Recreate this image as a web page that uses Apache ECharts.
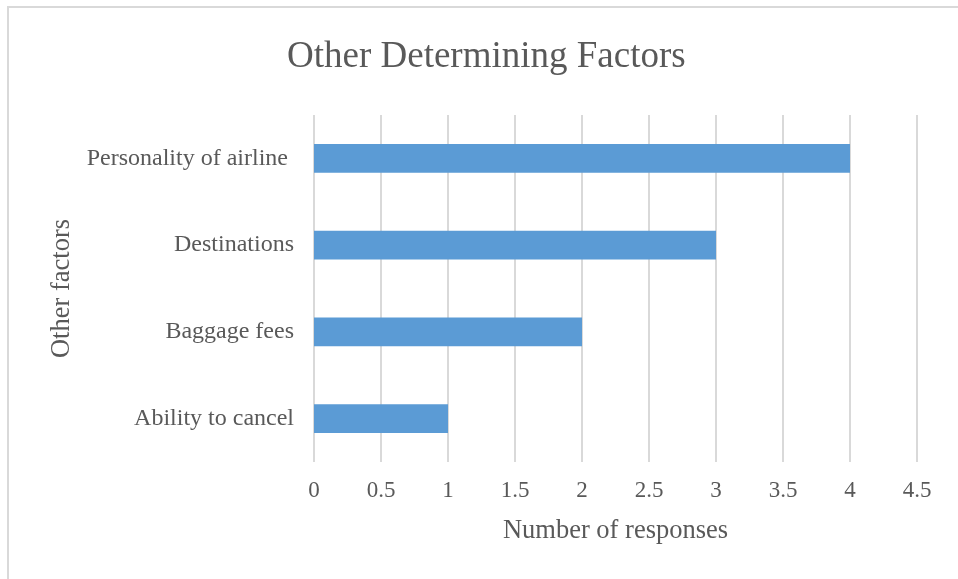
<!DOCTYPE html>
<html>
<head>
<meta charset="utf-8">
<style>
  html, body { margin: 0; padding: 0; background: #ffffff; }
  #chart { width: 958px; height: 579px; }
</style>
<script src="https://cdn.jsdelivr.net/npm/echarts@6/dist/echarts.min.js"></script>
</head>
<body>
<div id="chart"></div>
<script>
// Survey answers: other factors that decide the choice of airline
const categories = ['Ability to cancel', 'Baggage fees', 'Destinations', 'Personality of airline '];
const responses = [1, 2, 3, 4];
const xTicks = [0, 0.5, 1, 1.5, 2, 2.5, 3, 3.5, 4, 4.5];

const serif = '"Liberation Serif", "DejaVu Serif", serif';
const textColor = '#595959';

const chart = echarts.init(document.getElementById('chart'), null, { renderer: 'canvas' });
chart.setOption({
  backgroundColor: '#ffffff',
  animation: false,
  title: {
    text: 'Other Determining Factors',
    left: 287,
    top: 39,
    padding: 0,
    textStyle: { fontFamily: serif, fontSize: 37, fontWeight: 'normal', color: textColor }
  },
  graphic: [{
    type: 'rect',
    shape: { x: 8, y: 7, width: 1000, height: 700 },
    style: { fill: 'none', stroke: '#d9d9d9', lineWidth: 2 },
    silent: true
  }],
  grid: { left: 314, right: 41, top: 115, bottom: 117, containLabel: false },
  xAxis: {
    type: 'value',
    min: xTicks[0],
    max: xTicks[xTicks.length - 1],
    interval: 0.5,
    name: 'Number of responses',
    nameLocation: 'middle',
    nameGap: 56,
    nameTextStyle: { fontFamily: serif, fontSize: 26.5, color: textColor },
    axisLine: { show: false },
    axisTick: { show: false },
    axisLabel: { fontFamily: serif, fontSize: 23, color: textColor, margin: 17 },
    splitLine: { show: true, lineStyle: { color: '#d9d9d9', width: 2 } }
  },
  yAxis: {
    type: 'category',
    data: categories,
    name: 'Other factors',
    nameLocation: 'middle',
    nameGap: 234,
    nameRotate: 90,
    nameTextStyle: { fontFamily: serif, fontSize: 26.5, color: textColor },
    axisLine: { show: false },
    axisTick: { show: false },
    axisLabel: { fontFamily: serif, fontSize: 24, color: textColor, margin: 20 }
  },
  series: [{
    type: 'bar',
    data: responses,
    barWidth: '33%',
    itemStyle: { color: '#5b9bd5' }
  }]
});
</script>
</body>
</html>
